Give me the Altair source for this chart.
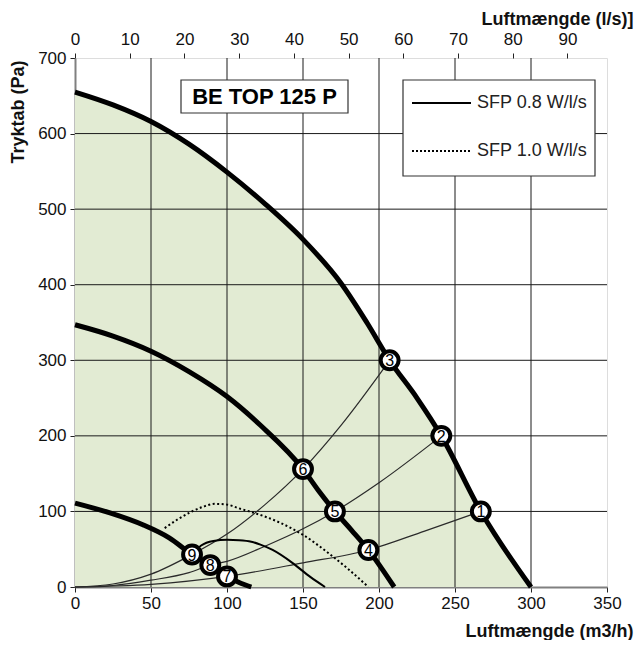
import altair as alt
import pandas as pd

# ---------------- data ----------------
# Fan curves (thick)
fan1_x = [0, 25, 50, 75, 100, 125, 150, 175, 192, 207, 225, 241, 267, 300]
fan1_y = [655, 638, 616, 586, 549, 507, 460, 402, 350, 300, 250, 200, 100, 0]
fan2_x = [0, 25, 50, 75, 100, 122, 150, 160, 171, 182, 193, 210]
fan2_y = [347, 332, 312, 285, 252, 214, 156, 128, 100, 75, 49, 0]
fan3_x = [0, 23, 45, 62, 77, 89, 100, 108, 116]
fan3_y = [111, 98, 82, 65, 43, 29, 14, 6, 0]

# System curves (thin)
sysA_x = [0, 25, 50, 77, 100, 125, 150, 175, 207]
sysA_y = [0, 4, 17, 43, 70, 109, 156, 214, 300]
sysB_x = [0, 25, 50, 75, 89, 100, 125, 150, 171, 200, 241]
sysB_y = [0, 2, 9, 19, 29, 34, 54, 77, 100, 138, 200]
sysC_x = [0, 50, 100, 150, 193, 230, 267]
sysC_y = [0, 3.5, 14, 32, 49, 74, 100]

# SFP limit curves
sfp08_x = [77, 83, 91, 100, 108, 116, 122, 130, 143, 155, 164.5]
sfp08_y = [43, 55, 61, 62.5, 62, 60, 56, 49, 32, 13, 0]
sfp10_x = [59, 68, 76, 84, 92, 100, 108, 118, 135, 150, 166, 179, 193]
sfp10_y = [78, 90, 99, 106, 110, 109, 104, 98, 85, 69, 46, 25, 0]

# Operating points
pt_label = ["1", "2", "3", "4", "5", "6", "7", "8", "9"]
pt_x = [267, 241, 207, 193, 171, 150, 100, 89, 77]
pt_y = [100, 200, 300, 49, 100, 156, 14, 29, 43]

# Axes
x_ticks = [0, 50, 100, 150, 200, 250, 300, 350]
y_ticks = [0, 100, 200, 300, 400, 500, 600, 700]
ls_ticks = [0, 10, 20, 30, 40, 50, 60, 70, 80, 90]
M3H_PER_LS = 3.6

title_text = "BE TOP 125 P"
legend_labels = ["SFP 0.8 W/l/s", "SFP 1.0 W/l/s"]

FONT = "Liberation Sans"
W, H = 532, 529
LFS = 17   # tick label size
TFS = 18   # axis title size

xs = alt.Scale(domain=[0, 350], nice=False, zero=False)
ys = alt.Scale(domain=[0, 700], nice=False, zero=False)


def frame(x, y, name=None):
    d = pd.DataFrame({"x": x, "y": y})
    if name is not None:
        d["name"] = name
    return d


X = alt.X("x:Q", scale=xs, axis=None)
Y = alt.Y("y:Q", scale=ys, axis=None)

common = dict(labelFont=FONT, labelFontSize=LFS, labelColor="#111",
              labelFlush=False, titleFont=FONT, titleFontSize=TFS,
              titleFontWeight="bold", titleColor="#111", grid=False,
              tickColor="#222", tickSize=5)

# fill under outer fan curve
area = alt.Chart(frame(fan1_x, fan1_y)).mark_area(
    color="#E2EBD3", interpolate="monotone"
).encode(
    x=alt.X("x:Q", scale=xs, title="Luftmængde (m3/h)",
            axis=alt.Axis(values=x_ticks, orient="bottom",
                          domainColor="#808080", domainWidth=2, labelPadding=3,
                          titleAlign="right", titleBaseline="alphabetic",
                          titleX=558, titleY=49, **common)),
    y=alt.Y("y:Q", scale=ys, title="Tryktab (Pa)",
            axis=alt.Axis(values=y_ticks, orient="left", domainColor="#808080",
                          domainWidth=2, labelPadding=4,
                          titleAngle=270, titleAlign="right",
                          titleBaseline="middle", titleX=-57, titleY=2,
                          **common)),
)

# top axis (l/s) carried by an invisible layer
top_axis = alt.Chart(pd.DataFrame({"x": [0]})).mark_point(opacity=0).encode(
    x=alt.X("x:Q", scale=xs, title="Luftmængde (l/s)]",
            axis=alt.Axis(orient="top", values=[v * M3H_PER_LS for v in ls_ticks],
                          labelExpr="round(datum.value / 3.6)", domain=False,
                          labelPadding=5, titleAlign="right",
                          titleBaseline="middle", titleX=558, titleY=-39,
                          **common)),
)

# grid lines drawn above the fill
vgrid = alt.Chart(pd.DataFrame({"x": x_ticks[1:-1]})).mark_rule(
    color="#1a1a1a", strokeWidth=1).encode(x=X)
hgrid = alt.Chart(pd.DataFrame({"y": y_ticks[1:-1]})).mark_rule(
    color="#1a1a1a", strokeWidth=1).encode(y=Y)

sys_df = pd.concat([frame(sysA_x, sysA_y, "A"), frame(sysB_x, sysB_y, "B"),
                    frame(sysC_x, sysC_y, "C")])
sys_lines = alt.Chart(sys_df).mark_line(
    color="#2a2a2a", strokeWidth=1.2, interpolate="monotone"
).encode(x=X, y=Y, detail="name:N")

sfp08 = alt.Chart(frame(sfp08_x, sfp08_y)).mark_line(
    color="#000", strokeWidth=2, interpolate="monotone").encode(x=X, y=Y)
sfp10 = alt.Chart(frame(sfp10_x, sfp10_y)).mark_line(
    color="#000", strokeWidth=2, strokeDash=[2, 2.5], interpolate="monotone"
).encode(x=X, y=Y)

fan_df = pd.concat([frame(fan1_x, fan1_y, "1"), frame(fan2_x, fan2_y, "2"),
                    frame(fan3_x, fan3_y, "3")])
fans = alt.Chart(fan_df).mark_line(
    color="#000", strokeWidth=5, interpolate="monotone"
).encode(x=X, y=Y, detail="name:N")

pts_df = pd.DataFrame({"x": pt_x, "y": pt_y, "label": pt_label})
circles = alt.Chart(pts_df).mark_point(
    shape="circle", filled=True, fill="white", stroke="black", strokeWidth=4,
    size=320, opacity=1
).encode(x=X, y=Y)
nums = alt.Chart(pts_df).mark_text(
    font=FONT, fontSize=16, fill="#000", baseline="middle", align="center", dy=1
).encode(x=X, y=Y, text="label:N")

# title box
tbox = alt.Chart(pd.DataFrame({"t": [title_text]})).mark_rect(
    fill="white", stroke="#333", strokeWidth=1.2
).encode(x=alt.value(106), x2=alt.value(273), y=alt.value(22), y2=alt.value(55))
ttext = alt.Chart(pd.DataFrame({"t": [title_text]})).mark_text(
    font=FONT, fontSize=22, fontWeight="bold", color="#000", align="center",
    baseline="middle"
).encode(x=alt.value(189.5), y=alt.value(39), text="t:N")

# legend
lbox = alt.Chart(pd.DataFrame({"t": ["legend"]})).mark_rect(
    fill="white", stroke="#333", strokeWidth=1.2
).encode(x=alt.value(328), x2=alt.value(520), y=alt.value(22), y2=alt.value(118))
lline1 = alt.Chart(pd.DataFrame({"t": [legend_labels[0]]})).mark_rule(
    color="#000", strokeWidth=2
).encode(x=alt.value(337), x2=alt.value(396), y=alt.value(45))
lline2 = alt.Chart(pd.DataFrame({"t": [legend_labels[1]]})).mark_rule(
    color="#000", strokeWidth=2, strokeDash=[2, 2]
).encode(x=alt.value(337), x2=alt.value(396), y=alt.value(93))
ltext = alt.Chart(pd.DataFrame({"t": legend_labels, "yy": [45, 93]})).mark_text(
    font=FONT, fontSize=18, color="#222", align="left", baseline="middle"
).encode(x=alt.value(402), y=alt.Y("yy:Q", scale=None, axis=None), text="t:N")

chart = alt.layer(
    area, top_axis, vgrid, hgrid, sys_lines, sfp08, sfp10, fans, circles, nums,
    tbox, ttext, lbox, lline1, lline2, ltext
).resolve_axis(x="independent", y="independent").properties(
    width=W, height=H, autosize=alt.AutoSizeParams(type="none"),
    padding={"left": 67, "top": 50, "right": 27, "bottom": 53},
).configure_view(stroke="#808080", strokeWidth=2).configure(background="white")

chart.save("out.html", embed_options={"renderer": "svg", "actions": False})
